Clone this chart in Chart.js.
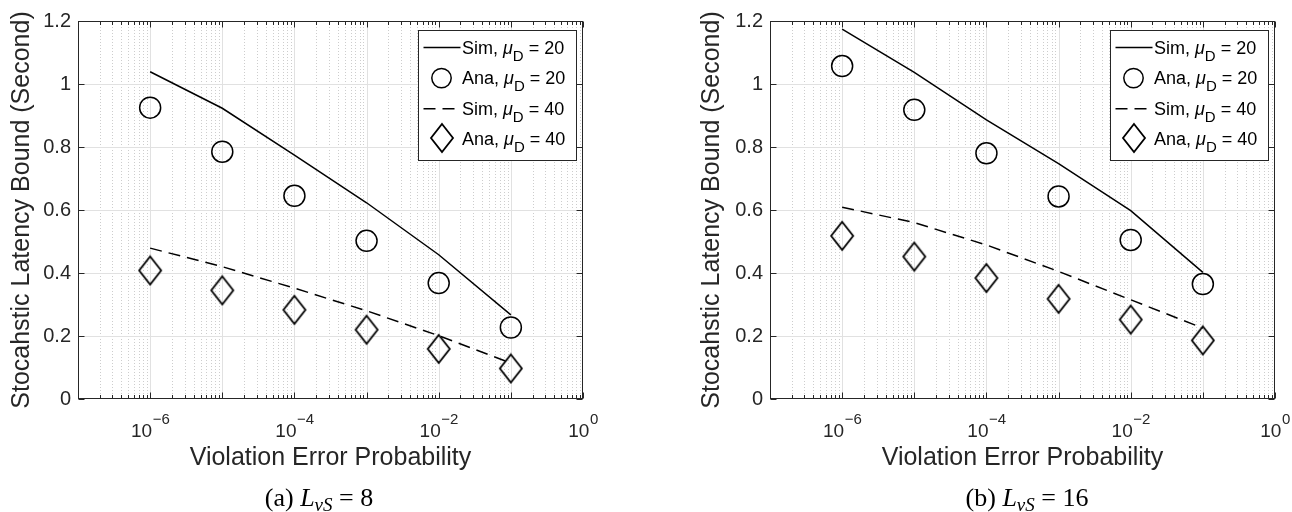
<!DOCTYPE html>
<html>
<head>
<meta charset="utf-8">
<script src="https://cdn.jsdelivr.net/npm/chart.js@4/dist/chart.umd.min.js"></script>
<style>
  body { margin:0; background:#fff; width:1292px; height:512px; position:relative; overflow:hidden; }
  .pane { position:absolute; top:0; width:646px; height:512px; }
  .cap { position:absolute; top:486px; font-family:"Liberation Serif", "Times New Roman", serif; font-size:26px; line-height:24px; color:#000; white-space:nowrap; transform:translateX(-50%); }
  .cap sub { font-size:19px; vertical-align:-5px; line-height:0; }
</style>
</head>
<body>
<div class="pane" style="left:0"><canvas id="chartA" width="646" height="512"></canvas></div>
<div class="pane" style="left:646px"><canvas id="chartB" width="646" height="512"></canvas></div>
<div class="cap" style="left:319px">(a) <i>L</i><sub><i>vS</i></sub> = 8</div>
<div class="cap" style="left:1027px">(b) <i>L</i><sub><i>vS</i></sub> = 16</div>
<script>
// x = violation error probability, y = latency bound (s)
var probs = [1e-6, 1e-5, 1e-4, 1e-3, 1e-2, 1e-1];
var xMin = 1e-7, xMax = 1;
var xLabelExp = ['\u22126', '\u22124', '\u22122', '0'];
var xLabelVal = [1e-6, 1e-4, 1e-2, 1];
var yMin = 0, yMax = 1.2, yStep = 0.2;

// (a) L_vS = 8
var simA20 = [1.039, 0.923, 0.774, 0.623, 0.458, 0.267];
var anaA20 = [0.925, 0.785, 0.645, 0.502, 0.368, 0.227];
var simA40 = [0.479, 0.420, 0.352, 0.280, 0.201, 0.114];
var anaA40 = [0.408, 0.345, 0.283, 0.220, 0.159, 0.097];

// (b) L_vS = 16
var simB20 = [1.174, 1.037, 0.886, 0.747, 0.598, 0.402];
var anaB20 = [1.057, 0.918, 0.780, 0.643, 0.505, 0.365];
var simB40 = [0.609, 0.560, 0.489, 0.405, 0.315, 0.225];
var anaB40 = [0.518, 0.452, 0.384, 0.318, 0.252, 0.186];

var legendName = ['Sim', 'Ana', 'Sim', 'Ana'];
var legendMu = ['20', '20', '40', '40'];

var FONT = '"Liberation Sans", Arial, Helvetica, sans-serif';
var TXT = '#262626';

function pts(ys) {
  return probs.map(function(p, i) { return {x: p, y: ys[i]}; });
}

// matlab style diamond (taller than wide)
function makeDiamond(w, h) {
  var c = document.createElement('canvas');
  c.width = w + 4; c.height = h + 4;
  var g = c.getContext('2d');
  g.strokeStyle = '#000'; g.lineWidth = 1.8;
  g.beginPath();
  g.moveTo(c.width / 2, 2);
  g.lineTo(c.width - 2, c.height / 2);
  g.lineTo(c.width / 2, c.height - 2);
  g.lineTo(2, c.height / 2);
  g.closePath();
  g.stroke();
  return c;
}
var diamond = makeDiamond(22, 28);

function hline(ctx, x1, x2, y) { ctx.beginPath(); ctx.moveTo(x1, y); ctx.lineTo(x2, y); ctx.stroke(); }
function vline(ctx, x, y1, y2) { ctx.beginPath(); ctx.moveTo(x, y1); ctx.lineTo(x, y2); ctx.stroke(); }

function drawLegend(chart) {
  var ctx = chart.ctx, a = chart.chartArea;
  var bw = 158, bh = 130;
  var bx = Math.round(a.right - 7 - bw) + 0.5, by = Math.round(a.top + 9) + 0.5;
  ctx.fillStyle = '#fff';
  ctx.fillRect(bx, by, bw, bh);
  ctx.strokeStyle = TXT; ctx.lineWidth = 1; ctx.setLineDash([]);
  ctx.strokeRect(bx, by, bw, bh);
  chart.data.datasets.forEach(function(ds, i) {
    var cy = by + 17 + i * 30.6;
    ctx.strokeStyle = '#000';
    if (ds.showLine !== false) {
      ctx.lineWidth = 1.5;
      ctx.setLineDash(ds.borderDash || []);
      hline(ctx, bx + 5, bx + 42, cy);
      ctx.setLineDash([]);
    } else if (ds.pointStyle === 'circle') {
      ctx.lineWidth = 1.5;
      ctx.beginPath(); ctx.arc(bx + 23, cy, 9.7, 0, Math.PI * 2); ctx.stroke();
    } else {
      ctx.drawImage(ds.pointStyle, Math.round(bx + 23 - ds.pointStyle.width / 2), Math.round(cy - 1 - ds.pointStyle.height / 2));
    }
    // text with mu_D subscript
    var x = bx + 43.5, base = cy + 6;
    ctx.fillStyle = '#000';
    ctx.textAlign = 'left'; ctx.textBaseline = 'alphabetic';
    ctx.font = '18px ' + FONT;
    ctx.fillText(legendName[i] + ', ', x, base); x += ctx.measureText(legendName[i] + ', ').width;
    ctx.font = 'italic 18px ' + FONT;
    ctx.fillText('\u03bc', x, base); x += ctx.measureText('\u03bc').width;
    ctx.font = '15px ' + FONT;
    ctx.fillText('D', x, base + 7); x += ctx.measureText('D').width;
    ctx.font = '18px ' + FONT;
    ctx.fillText(' = ' + legendMu[i], x, base);
  });
}

var matlabLook = {
  id: 'matlabLook',
  beforeDatasetsDraw: function(chart) {
    var ctx = chart.ctx, a = chart.chartArea, xs = chart.scales.x, ys = chart.scales.y;
    var e0 = Math.round(Math.log10(xMin)), e1 = Math.round(Math.log10(xMax));
    ctx.save();
    ctx.lineWidth = 1;
    // minor grid
    ctx.strokeStyle = '#cdcdcd'; ctx.setLineDash([1, 2]);
    for (var e = e0; e < e1; e++) {
      for (var k = 2; k < 10; k++) {
        var px = Math.round(xs.getPixelForValue(k * Math.pow(10, e))) + 0.5;
        vline(ctx, px, a.top, a.bottom);
      }
    }
    // major grid
    ctx.setLineDash([]); ctx.strokeStyle = '#e1e1e1';
    for (var e2 = e0 + 1; e2 < e1; e2++) {
      var qx = Math.round(xs.getPixelForValue(Math.pow(10, e2))) + 0.5;
      vline(ctx, qx, a.top, a.bottom);
    }
    ys.ticks.forEach(function(t) {
      if (t.value <= yMin || t.value >= yMax) return;
      var py = Math.round(ys.getPixelForValue(t.value)) + 0.5;
      hline(ctx, a.left, a.right, py);
    });
    ctx.restore();
  },
  afterDatasetsDraw: function(chart) {
    var ctx = chart.ctx, a = chart.chartArea, xs = chart.scales.x, ys = chart.scales.y;
    var e0 = Math.round(Math.log10(xMin)), e1 = Math.round(Math.log10(xMax));
    ctx.save();
    ctx.strokeStyle = TXT; ctx.lineWidth = 1; ctx.setLineDash([]);
    var L = Math.round(a.left) + 0.5, R = Math.round(a.right) - 0.5;
    var T = Math.round(a.top) + 0.5, B = Math.round(a.bottom) - 0.5;
    ctx.strokeRect(L, T, R - L, B - T);
    // inward ticks, x
    for (var e = e0; e <= e1; e++) {
      for (var k = 1; k < 10; k++) {
        var v = k * Math.pow(10, e);
        if (v > xMax) break;
        var px = Math.round(xs.getPixelForValue(v)) + 0.5;
        var len = k === 1 ? 6 : 3.5;
        vline(ctx, px, B, B - len);
        vline(ctx, px, T, T + len);
      }
    }
    // inward ticks, y
    ys.ticks.forEach(function(t) {
      var py = Math.round(ys.getPixelForValue(t.value)) + 0.5;
      hline(ctx, L, L + 6, py);
      hline(ctx, R, R - 6, py);
    });
    // x tick labels 10^n
    ctx.fillStyle = TXT; ctx.textAlign = 'left'; ctx.textBaseline = 'alphabetic';
    xLabelVal.forEach(function(val, i) {
      var px = xs.getPixelForValue(val);
      ctx.font = '19px ' + FONT;
      var w1 = ctx.measureText('10').width;
      ctx.font = '15px ' + FONT;
      var w2 = ctx.measureText(xLabelExp[i]).width;
      var x0 = px - (w1 + w2) / 2;
      ctx.font = '19px ' + FONT;
      ctx.fillText('10', x0, a.bottom + 37.5);
      ctx.font = '15px ' + FONT;
      ctx.fillText(xLabelExp[i], x0 + w1 + 0.5, a.bottom + 25);
    });
    drawLegend(chart);
    ctx.restore();
  }
};

function makeChart(id, s20, a20, s40, a40, padLeft, yWidth, padRight) {
  return new Chart(document.getElementById(id), {
    type: 'line',
    data: {
      datasets: [
        { data: pts(s20), borderColor: '#000', borderWidth: 1.5, pointRadius: 0, fill: false, tension: 0 },
        { data: pts(a20), showLine: false, pointStyle: 'circle', pointRadius: 10.5, pointBorderWidth: 1.5,
          borderColor: '#000', backgroundColor: 'rgba(0,0,0,0)' },
        { data: pts(s40), borderColor: '#000', borderWidth: 1.5, borderDash: [12, 7], pointRadius: 0, fill: false, tension: 0 },
        { data: pts(a40), showLine: false, pointStyle: diamond, pointRadius: 12,
          borderColor: '#000', backgroundColor: 'rgba(0,0,0,0)' }
      ]
    },
    options: {
      responsive: false,
      animation: false,
      layout: { padding: { left: padLeft, right: padRight, top: 21, bottom: 35 } },
      plugins: { legend: { display: false }, tooltip: { enabled: false } },
      scales: {
        x: {
          type: 'logarithmic', min: xMin, max: xMax,
          grid: { display: false }, border: { display: false },
          ticks: { display: false },
          title: { display: true, text: 'Violation Error Probability', color: TXT, font: { family: FONT, size: 25 } },
          afterFit: function(s) { s.height = 78; }
        },
        y: {
          type: 'linear', min: yMin, max: yMax,
          grid: { display: false, drawTicks: false }, border: { display: false },
          ticks: {
            stepSize: yStep, color: TXT, padding: 7, font: { family: FONT, size: 20 },
            callback: function(v) { return String(Math.round(v * 10) / 10); }
          },
          title: { display: true, text: 'Stocahstic Latency Bound (Second)', color: TXT, font: { family: FONT, size: 25 } },
          afterFit: function(s) { s.width = yWidth; }
        }
      }
    },
    plugins: [matlabLook]
  });
}

makeChart('chartA', simA20, anaA20, simA40, anaA40, 3, 75, 63);
makeChart('chartB', simB20, anaB20, simB40, anaB40, 47, 77, 17);
</script>
</body>
</html>
